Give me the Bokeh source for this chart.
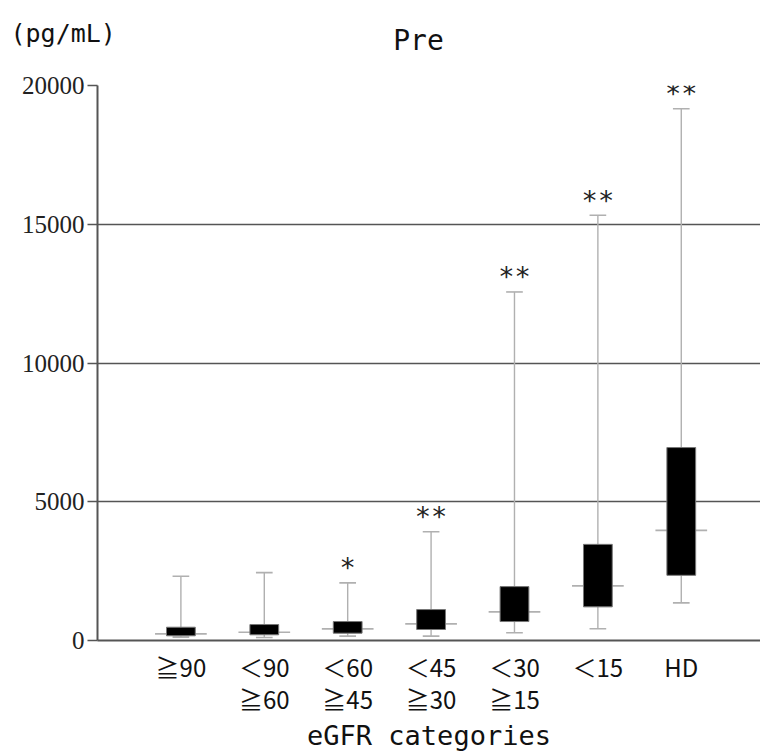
from bokeh.plotting import figure
from bokeh.models import FixedTicker, ColumnDataSource, Range1d
from bokeh.layouts import column
from bokeh.core.properties import value
from bokeh.embed import file_html
from bokeh.resources import INLINE

categories = ["≧90", "＜90\n≧60", "＜60\n≧45", "＜45\n≧30", "＜30\n≧15", "＜15", "HD"]
positions = [1, 2, 3, 4, 5, 6, 7]
whisker_low = [120, 110, 156, 156, 277, 421, 1356]
q1 = [169, 205, 264, 396, 683, 1212, 2349]
median = [240, 300, 420, 600, 1032, 1967, 3968]
q3 = [479, 575, 683, 1115, 1942, 3464, 6953]
whisker_high = [2313, 2446, 2075, 3921, 12560, 15323, 19162]
stars = ["", "", "*", "**", "**", "**", "**"]
y_ticks = [0, 5000, 10000, 15000, 20000]

src = ColumnDataSource(dict(
    x=positions, lo=whisker_low, q1=q1, med=median, q3=q3, hi=whisker_high,
    star=stars,
    cl=[p - 0.1 for p in positions], cr=[p + 0.1 for p in positions],
    ml=[p - 0.31 for p in positions], mr=[p + 0.31 for p in positions],
))

# ---- header with unit and title ----
header = figure(width=760, height=60, x_range=Range1d(0, 760), y_range=Range1d(60, 0),
                output_backend="svg", toolbar_location=None,
                x_axis_type=None, y_axis_type=None,
                min_border_left=0, min_border_right=0, min_border_top=0, min_border_bottom=0)
header.frame_align = False
header.outline_line_color = None
header.xgrid.grid_line_color = None
header.ygrid.grid_line_color = None
header.text(x=[10], y=[33], text=["(pg/mL)"], text_align="left", text_baseline="middle",
            text_font=value("DejaVu Sans Mono"), text_font_size="25px", text_color="#111111")
header.text(x=[418], y=[40], text=["Pre"], text_align="center", text_baseline="middle",
            text_font=value("DejaVu Sans Mono"), text_font_size="28px", text_color="#111111")

# ---- main chart ----
p = figure(width=760, height=693, x_range=(0, 7.95), y_range=(0, 20000),
           output_backend="svg", toolbar_location=None,
           min_border_left=97, min_border_right=0, min_border_top=25,
           min_border_bottom=112)
p.frame_align = False
p.outline_line_color = None
p.background_fill_color = "white"

wc = "#b0b0b0"
p.segment(x0="x", y0="q3", x1="x", y1="hi", source=src, line_color=wc, line_width=1.4)
p.segment(x0="x", y0="lo", x1="x", y1="q1", source=src, line_color=wc, line_width=1.4)
p.segment(x0="cl", y0="hi", x1="cr", y1="hi", source=src, line_color=wc, line_width=1.6)
p.segment(x0="cl", y0="lo", x1="cr", y1="lo", source=src, line_color=wc, line_width=1.6)
p.segment(x0="ml", y0="med", x1="mr", y1="med", source=src, line_color=wc, line_width=1.6)
p.vbar(x="x", width=0.345, bottom="q1", top="q3", source=src,
       fill_color="black", line_color="#777777", line_width=1)
p.text(x="x", y="hi", text="star", source=src, text_align="center",
       text_baseline="middle", y_offset=-15, text_font=value("DejaVu Sans Mono"),
       text_font_size="27px", text_color="#222222")

p.yaxis.ticker = FixedTicker(ticks=y_ticks)
p.yaxis.major_label_text_font = "Liberation Serif"
p.yaxis.major_label_text_font_size = "25px"
p.yaxis.major_label_text_color = "#222222"
p.yaxis.major_tick_out = 10
p.yaxis.major_tick_in = 0
p.yaxis.minor_tick_out = 0
p.yaxis.minor_tick_in = 0
p.yaxis.major_tick_line_color = "#555555"
p.yaxis.major_tick_line_width = 1.5
p.yaxis.axis_line_color = "#555555"
p.yaxis.axis_line_width = 2
p.yaxis.major_label_standoff = 3

p.xaxis.ticker = FixedTicker(ticks=positions)
p.xaxis.major_label_overrides = {pos: lab for pos, lab in zip(positions, categories)}
p.xaxis.major_label_text_font = "Noto Sans CJK JP"
p.xaxis.major_label_text_font_size = "24px"
p.xaxis.major_label_text_color = "#111111"
p.xaxis.major_label_text_line_height = 0.92
p.xaxis.major_tick_out = 0
p.xaxis.major_tick_in = 0
p.xaxis.minor_tick_out = 0
p.xaxis.minor_tick_in = 0
p.xaxis.axis_line_color = "#555555"
p.xaxis.axis_line_width = 2
p.xaxis.major_label_standoff = 8
p.xaxis.axis_label = "eGFR categories"
p.xaxis.axis_label_text_font = "DejaVu Sans Mono"
p.xaxis.axis_label_text_font_style = "normal"
p.xaxis.axis_label_text_font_size = "27px"
p.xaxis.axis_label_text_color = "#111111"
p.xaxis.axis_label_standoff = 1

p.xgrid.grid_line_color = None
p.ygrid.grid_line_color = "#555555"
p.ygrid.grid_line_width = 1.5

open("out.html", "w").write(file_html(column(header, p, spacing=0), INLINE))
